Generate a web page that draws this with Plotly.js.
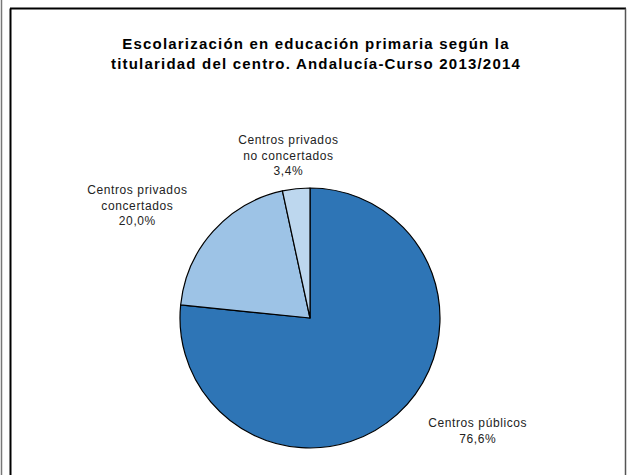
<!DOCTYPE html>
<html>
<head>
<meta charset="utf-8">
<script src="https://cdn.plot.ly/plotly-3.0.1.min.js"></script>
<style>
html,body{margin:0;padding:0;background:#fff;}
#chart{width:627px;height:475px;}
#chart .gtitle{letter-spacing:1.2px;}
#chart .annotation-text{letter-spacing:0.6px;}
</style>
</head>
<body>
<div id="chart"></div>
<script>
const categories = ["Centros públicos", "Centros privados concertados", "Centros privados no concertados"];
const labelLines = ["Centros públicos", "Centros privados<br>concertados", "Centros privados<br>no concertados"];
const values = [76.6, 20.0, 3.4];
const colors = ["#2E75B6", "#9DC3E6", "#BDD7EE"];
const titleText = "Escolarización en educación primaria según la<br>titularidad del centro. Andalucía-Curso 2013/2014";

const W = 627, H = 475;
const px = x => x / W;
const py = y => 1 - y / H;

// label anchor positions (pixels)
const labelPos = [[477, 431], [137, 205], [288, 155]];

const annotations = categories.map((c, i) => ({
  xref: 'paper', yref: 'paper',
  x: px(labelPos[i][0]), y: py(labelPos[i][1]),
  xanchor: 'center', yanchor: 'middle',
  showarrow: false, align: 'center',
  text: labelLines[i] + '<br>' + values[i].toFixed(1).replace('.', ',') + '%',
  font: {family: 'Liberation Sans, Arial, sans-serif', size: 12, color: '#222'}
}));

const shapes = [
  {type:'line', xref:'paper', yref:'paper', x0:px(1.5), x1:px(1.5), y0:0, y1:1, line:{color:'#777', width:1.5}},
  {type:'line', xref:'paper', yref:'paper', x0:px(10.5), x1:px(10.5), y0:0, y1:py(8.5), line:{color:'#000', width:2}},
  {type:'line', xref:'paper', yref:'paper', x0:px(10), x1:px(626), y0:py(8.5), y1:py(8.5), line:{color:'#000', width:2}},
  {type:'line', xref:'paper', yref:'paper', x0:px(625.5), x1:px(625.5), y0:0, y1:py(8.5), line:{color:'#555', width:1.5}}
];

const data = [{
  type: 'pie',
  labels: categories,
  values: values,
  sort: false,
  direction: 'clockwise',
  rotation: 0,
  textinfo: 'none',
  hoverinfo: 'label+percent',
  marker: {colors: colors, line: {color: '#000', width: 1.2}},
  domain: {x: [px(180), px(440)], y: [py(448), py(188)]},
  showlegend: false
}];

const layout = {
  width: W, height: H,
  margin: {l:0, r:0, t:0, b:0},
  paper_bgcolor: '#fff',
  title: {
    text: titleText,
    font: {family: 'Liberation Sans, Arial, sans-serif', size: 15, color: '#000', weight: 'bold'},
    x: px(316), xanchor: 'center',
    y: py(49), yanchor: 'middle'
  },
  annotations: annotations,
  shapes: shapes,
  showlegend: false
};

Plotly.newPlot('chart', data, layout, {displayModeBar: false, staticPlot: true});
</script>
</body>
</html>
